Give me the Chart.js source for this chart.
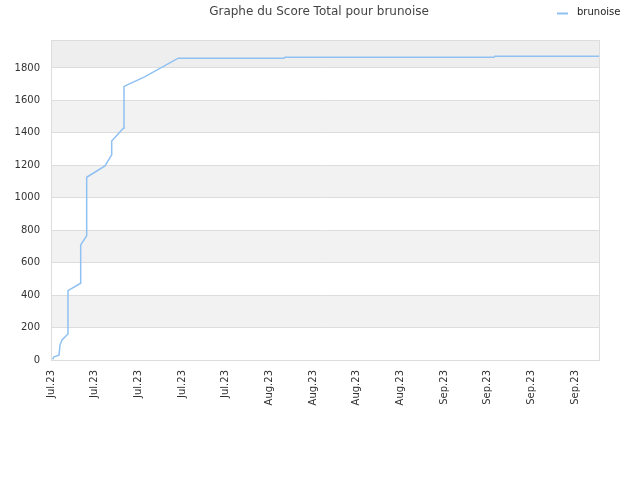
<!DOCTYPE html>
<html>
<head>
<meta charset="utf-8">
<script src="https://cdn.jsdelivr.net/npm/chart.js@4/dist/chart.umd.min.js"></script>
<style>
  html, body { margin: 0; padding: 0; background: #fff; }
  #wrap { width: 640px; height: 480px; }
</style>
</head>
<body>
<div id="wrap"><canvas id="scoreChart" width="640" height="480"></canvas></div>
<script>
// Données (jours depuis le début, score total)
const dayValues = [0.27, 0.48, 1.28, 1.44, 1.76, 2.72, 2.72, 4.76, 4.76, 5.72, 5.72, 8.65, 9.73, 9.73, 11.59, 11.7, 11.97, 15.0, 20.4, 37.34, 37.5, 71.0, 71.15, 87.8, 88.0];
const scoreValues = [4, 20, 30, 92, 123, 160, 427, 473, 709, 766, 1126, 1196, 1264, 1350, 1428, 1685, 1691, 1745, 1860, 1860, 1866, 1866, 1872, 1872, 1878];
const tickLabels = ['Jul.23', 'Jul.23', 'Jul.23', 'Jul.23', 'Jul.23', 'Aug.23', 'Aug.23', 'Aug.23', 'Aug.23', 'Sep.23', 'Sep.23', 'Sep.23', 'Sep.23'];
const seriesName = 'brunoise';
const chartTitle = 'Graphe du Score Total pour brunoise';

const lineColor = '#8fc1f2';
const fontFamily = '"DejaVu Sans", sans-serif';

// Bandes alternées en fond de la zone de tracé
const bandsPlugin = {
    id: 'bands',
    beforeDraw(chart) {
        const { ctx, chartArea, scales } = chart;
        const y = scales.y;
        ctx.save();
        for (let v = 0; v < 1800; v += 200) {
            if ((v / 200) % 2 === 1) {
                const top = y.getPixelForValue(v + 200);
                const bottom = y.getPixelForValue(v);
                ctx.fillStyle = '#f2f2f2';
                ctx.fillRect(chartArea.left, top, chartArea.right - chartArea.left, bottom - top);
            }
        }
        const t = y.getPixelForValue(1800);
        ctx.fillStyle = '#eeeeee';
        ctx.fillRect(chartArea.left, chartArea.top, chartArea.right - chartArea.left, t - chartArea.top);
        ctx.restore();
    },
    afterDraw(chart) {
        const { ctx, chartArea } = chart;
        ctx.save();
        // cadre
        ctx.strokeStyle = '#dddddd';
        ctx.lineWidth = 1;
        ctx.strokeRect(chartArea.left + 0.5, chartArea.top + 0.5, chartArea.right - chartArea.left - 1, chartArea.bottom - chartArea.top);
        // titre
        ctx.fillStyle = '#444444';
        ctx.font = '12px ' + fontFamily;
        ctx.textAlign = 'center';
        ctx.textBaseline = 'middle';
        ctx.fillText(chartTitle, 319, 12);
        // légende
        ctx.strokeStyle = lineColor;
        ctx.lineWidth = 2;
        ctx.beginPath();
        ctx.moveTo(557, 13.5);
        ctx.lineTo(568, 13.5);
        ctx.stroke();
        ctx.fillStyle = '#222222';
        ctx.font = '10px ' + fontFamily;
        ctx.textAlign = 'left';
        ctx.fillText(seriesName, 577, 12);
        ctx.restore();
    }
};

const chartData = {
    datasets: [{
        label: seriesName,
        data: dayValues.map((d, i) => ({ x: d, y: scoreValues[i] })),
        borderColor: lineColor,
        backgroundColor: lineColor,
        borderWidth: 1.5,
        pointRadius: 0,
        fill: false,
        tension: 0
    }]
};

const chartConfig = {
    type: 'line',
    data: chartData,
    options: {
        responsive: false,
        animation: false,
        layout: { padding: { top: 40, right: 40, left: 0, bottom: 0 } },
        plugins: {
            legend: { display: false },
            title: { display: false },
            tooltip: { enabled: false }
        },
        scales: {
            x: {
                type: 'linear',
                min: 0,
                max: 88,
                afterBuildTicks: (scale) => {
                    scale.ticks = tickLabels.map((_, i) => ({ value: i * 7 }));
                },
                afterFit: (scale) => { scale.height = 120; },
                grid: { display: false, drawTicks: false },
                border: { display: false },
                ticks: {
                    autoSkip: false,
                    minRotation: 90,
                    maxRotation: 90,
                    padding: 10,
                    color: '#333333',
                    font: { family: fontFamily, size: 10 },
                    callback: (value) => tickLabels[Math.round(value / 7)] || ''
                }
            },
            y: {
                min: 0,
                max: 1972,
                afterBuildTicks: (scale) => {
                    const ticks = [];
                    for (let v = 0; v <= 1800; v += 200) ticks.push({ value: v });
                    scale.ticks = ticks;
                },
                afterFit: (scale) => { scale.width = 51; },
                grid: { color: '#dddddd', drawTicks: false },
                border: { display: false },
                ticks: {
                    padding: 11,
                    color: '#333333',
                    font: { family: fontFamily, size: 10 },
                    callback: (value) => String(value)
                }
            }
        }
    },
    plugins: [bandsPlugin]
};

new Chart(document.getElementById('scoreChart').getContext('2d'), chartConfig);
</script>
</body>
</html>
